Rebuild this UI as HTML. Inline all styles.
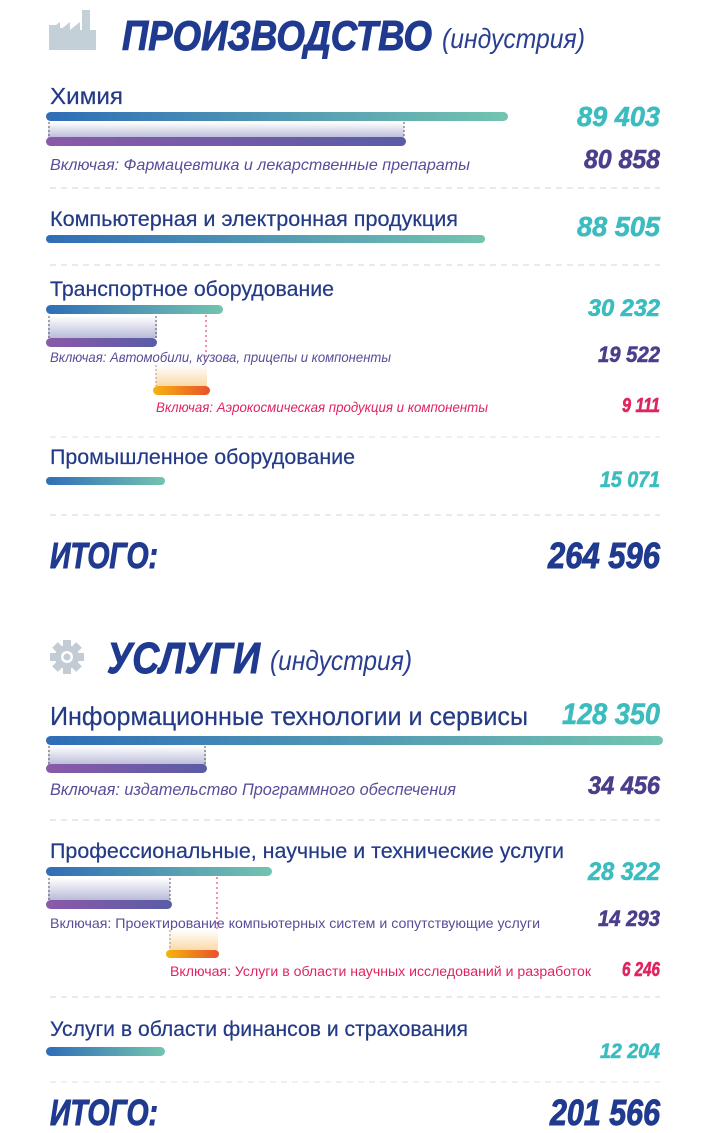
<!DOCTYPE html>
<html><head><meta charset="utf-8"><style>
html,body{margin:0;padding:0;background:#fff;width:712px;height:1133px;overflow:hidden}
svg{display:block}
text{font-family:"Liberation Sans","Noto Sans CJK SC",sans-serif}
.h{font-weight:bold;font-style:italic;fill:#1f3a8f;stroke:#1f3a8f;stroke-width:1}
.sub{font-style:italic;fill:#2a3f8f}
.l{fill:#233a86;stroke:#233a86;stroke-width:0.2}
.tq{font-weight:bold;font-style:italic;fill:#3cbcbf;stroke:#3cbcbf;stroke-width:0.6}
.pu{font-weight:bold;font-style:italic;fill:#4b3f8c;stroke:#4b3f8c;stroke-width:0.6}
.pk{font-weight:bold;font-style:italic;fill:#e0245e;stroke:#e0245e;stroke-width:0.6}
.ip{font-style:italic;fill:#5b4c99}
.ir{font-style:italic;fill:#e0245e}
</style></head><body>
<svg width="712" height="1133" viewBox="0 0 712 1133" xmlns="http://www.w3.org/2000/svg">
<defs>
<linearGradient id="bl" x1="0" x2="1"><stop offset="0" stop-color="#2f6db7"/><stop offset="1" stop-color="#73c4b0"/></linearGradient>
<linearGradient id="pp" x1="0" x2="1"><stop offset="0" stop-color="#8a5aa8"/><stop offset="1" stop-color="#5a5ca6"/></linearGradient>
<linearGradient id="or" x1="0" x2="1"><stop offset="0" stop-color="#f7b30f"/><stop offset="1" stop-color="#e8522a"/></linearGradient>
<linearGradient id="sh" x1="0" y1="0" x2="0" y2="1"><stop offset="0" stop-color="#fff"/><stop offset="1" stop-color="#b9bbd8"/></linearGradient>
<linearGradient id="so" x1="0" y1="0" x2="0" y2="1"><stop offset="0" stop-color="#fff"/><stop offset="1" stop-color="#fbd9a8"/></linearGradient>
</defs>

<g fill="#c3d0d8">
<rect x="49" y="25" width="8" height="25"/><rect x="58" y="28" width="8" height="22"/>
<polygon points="49,30 60,22 60,30 70,22 70,30 80,22 80,50 49,50"/>
<rect x="82" y="10" width="8" height="40"/><rect x="80" y="30" width="16" height="20"/>
</g>
<text class="h" x="122" y="50" font-size="42" textLength="310" lengthAdjust="spacingAndGlyphs">ПРОИЗВОДСТВО</text>
<text class="sub" x="442" y="48" font-size="28" textLength="143" lengthAdjust="spacingAndGlyphs">(индустрия)</text>

<text class="l" x="50" y="104" font-size="23" textLength="73" lengthAdjust="spacingAndGlyphs">Химия</text>
<rect x="46" y="112" width="462" height="9" rx="4.5" fill="url(#bl)"/>
<rect x="48" y="122" width="356" height="16" fill="url(#sh)"/>
<line x1="49" y1="122" x2="49" y2="137" stroke="#555" stroke-dasharray="2,2"/>
<line x1="404" y1="122" x2="404" y2="137" stroke="#555" stroke-dasharray="2,2"/>
<rect x="46" y="137" width="360" height="9" rx="4.5" fill="url(#pp)"/>
<text class="tq" x="660" y="126" font-size="28" text-anchor="end" textLength="83" lengthAdjust="spacingAndGlyphs">89 403</text>
<text class="ip" x="50" y="170" font-size="16" textLength="420" lengthAdjust="spacingAndGlyphs">Включая: Фармацевтика и лекарственные препараты</text>
<text class="pu" x="660" y="168" font-size="26" text-anchor="end" textLength="76" lengthAdjust="spacingAndGlyphs">80 858</text>
<line x1="50" y1="188" x2="660" y2="188" stroke="#d4d4d4" stroke-dasharray="6,5"/>

<text class="l" x="50" y="226" font-size="21" textLength="408" lengthAdjust="spacingAndGlyphs">Компьютерная и электронная продукция</text>
<rect x="46" y="235" width="439" height="8" rx="4" fill="url(#bl)"/>
<text class="tq" x="660" y="236" font-size="28" text-anchor="end" textLength="83" lengthAdjust="spacingAndGlyphs">88 505</text>
<line x1="50" y1="265" x2="660" y2="265" stroke="#d4d4d4" stroke-dasharray="6,5"/>

<text class="l" x="50" y="296" font-size="21" textLength="284" lengthAdjust="spacingAndGlyphs">Транспортное оборудование</text>
<rect x="46" y="305" width="177" height="9" rx="4.5" fill="url(#bl)"/>
<text class="tq" x="660" y="316" font-size="24" text-anchor="end" textLength="72" lengthAdjust="spacingAndGlyphs">30 232</text>
<rect x="48" y="316" width="109" height="22" fill="url(#sh)"/>
<line x1="49" y1="316" x2="49" y2="338" stroke="#555" stroke-dasharray="2,2"/>
<line x1="156" y1="316" x2="156" y2="338" stroke="#555" stroke-dasharray="2,2"/>
<line x1="206" y1="315" x2="206" y2="386" stroke="#e0245e" stroke-dasharray="2,3"/>
<rect x="46" y="338" width="111" height="9" rx="4.5" fill="url(#pp)"/>
<text class="ip" x="50" y="362" font-size="14" textLength="341" lengthAdjust="spacingAndGlyphs">Включая: Автомобили, кузова, прицепы и компоненты</text>
<text class="pu" x="660" y="362" font-size="22" text-anchor="end" textLength="62" lengthAdjust="spacingAndGlyphs">19 522</text>
<rect x="156" y="365" width="51" height="21" fill="url(#so)"/>
<line x1="156" y1="365" x2="156" y2="386" stroke="#999" stroke-dasharray="2,2"/>
<rect x="153" y="386" width="57" height="9" rx="4.5" fill="url(#or)"/>
<text class="ir" x="156" y="412" font-size="14" textLength="332" lengthAdjust="spacingAndGlyphs">Включая: Аэрокосмическая продукция и компоненты</text>
<text class="pk" x="660" y="412" font-size="20" text-anchor="end" textLength="38" lengthAdjust="spacingAndGlyphs">9 111</text>
<line x1="50" y1="437" x2="660" y2="437" stroke="#e2e2e2" stroke-dasharray="6,5"/>

<text class="l" x="50" y="464" font-size="21" textLength="305" lengthAdjust="spacingAndGlyphs">Промышленное оборудование</text>
<rect x="46" y="477" width="119" height="8" rx="4" fill="url(#bl)"/>
<text class="tq" x="660" y="487" font-size="22" text-anchor="end" textLength="60" lengthAdjust="spacingAndGlyphs">15 071</text>
<line x1="50" y1="515" x2="660" y2="515" stroke="#d4d4d4" stroke-dasharray="6,5"/>

<text class="h" x="50" y="568" font-size="36" textLength="108" lengthAdjust="spacingAndGlyphs">ИТОГО:</text>
<text class="h" x="660" y="568" font-size="36" text-anchor="end" textLength="112" lengthAdjust="spacingAndGlyphs">264 596</text>

<g transform="translate(67,657)" fill="#c3ccd4">
<circle r="12"/>
<g><rect x="-4" y="-17" width="8" height="34"/><rect x="-4" y="-17" width="8" height="34" transform="rotate(45)"/><rect x="-4" y="-17" width="8" height="34" transform="rotate(90)"/><rect x="-4" y="-17" width="8" height="34" transform="rotate(135)"/></g>
<circle r="6" fill="#fff"/><circle r="3.5"/>
</g>
<text class="h" x="107" y="673" font-size="44" textLength="153" lengthAdjust="spacingAndGlyphs">УСЛУГИ</text>
<text class="sub" x="270" y="670" font-size="28" textLength="142" lengthAdjust="spacingAndGlyphs">(индустрия)</text>

<text class="l" x="50" y="725" font-size="26" textLength="478" lengthAdjust="spacingAndGlyphs">Информационные технологии и сервисы</text>
<text class="tq" x="660" y="724" font-size="30" text-anchor="end" textLength="98" lengthAdjust="spacingAndGlyphs">128 350</text>
<rect x="46" y="736" width="617" height="9" rx="4.5" fill="url(#bl)"/>
<rect x="48" y="746" width="158" height="19" fill="url(#sh)"/>
<line x1="49" y1="746" x2="49" y2="764" stroke="#555" stroke-dasharray="2,2"/>
<line x1="205" y1="746" x2="205" y2="764" stroke="#555" stroke-dasharray="2,2"/>
<rect x="46" y="764" width="161" height="9" rx="4.5" fill="url(#pp)"/>
<text class="ip" x="50" y="795" font-size="17" textLength="406" lengthAdjust="spacingAndGlyphs">Включая: издательство Программного обеспечения</text>
<text class="pu" x="660" y="794" font-size="25" text-anchor="end" textLength="72" lengthAdjust="spacingAndGlyphs">34 456</text>
<line x1="50" y1="820" x2="660" y2="820" stroke="#d4d4d4" stroke-dasharray="6,5"/>

<text class="l" x="50" y="858" font-size="21" textLength="514" lengthAdjust="spacingAndGlyphs">Профессиональные, научные и технические услуги</text>
<rect x="46" y="867" width="226" height="9" rx="4.5" fill="url(#bl)"/>
<text class="tq" x="660" y="880" font-size="25" text-anchor="end" textLength="72" lengthAdjust="spacingAndGlyphs">28 322</text>
<rect x="48" y="878" width="122" height="22" fill="url(#sh)"/>
<line x1="49" y1="878" x2="49" y2="900" stroke="#555" stroke-dasharray="2,2"/>
<line x1="170" y1="878" x2="170" y2="900" stroke="#555" stroke-dasharray="2,2"/>
<line x1="217" y1="877" x2="217" y2="950" stroke="#e0245e" stroke-dasharray="2,3"/>
<rect x="46" y="900" width="126" height="9" rx="4.5" fill="url(#pp)"/>
<text fill="#5b4c99" x="50" y="928" font-size="14" textLength="490" lengthAdjust="spacingAndGlyphs">Включая: Проектирование компьютерных систем и сопутствующие услуги</text>
<text class="pu" x="660" y="926" font-size="22" text-anchor="end" textLength="62" lengthAdjust="spacingAndGlyphs">14 293</text>
<rect x="169" y="930" width="49" height="20" fill="url(#so)"/>
<line x1="170" y1="930" x2="170" y2="950" stroke="#999" stroke-dasharray="2,2"/>
<rect x="166" y="950" width="53" height="8" rx="4" fill="url(#or)"/>
<text fill="#e0245e" x="170" y="976" font-size="13.5" textLength="421" lengthAdjust="spacingAndGlyphs">Включая: Услуги в области научных исследований и разработок</text>
<text class="pk" x="660" y="976" font-size="20" text-anchor="end" textLength="38" lengthAdjust="spacingAndGlyphs">6 246</text>
<line x1="50" y1="997" x2="660" y2="997" stroke="#d4d4d4" stroke-dasharray="6,5"/>

<text class="l" x="50" y="1036" font-size="21" textLength="418" lengthAdjust="spacingAndGlyphs">Услуги в области финансов и страхования</text>
<rect x="46" y="1047" width="119" height="9" rx="4.5" fill="url(#bl)"/>
<text class="tq" x="660" y="1058" font-size="21" text-anchor="end" textLength="60" lengthAdjust="spacingAndGlyphs">12 204</text>
<line x1="50" y1="1082" x2="660" y2="1082" stroke="#e2e2e2" stroke-dasharray="6,5"/>

<text class="h" x="50" y="1125" font-size="36" textLength="108" lengthAdjust="spacingAndGlyphs">ИТОГО:</text>
<text class="h" x="660" y="1125" font-size="36" text-anchor="end" textLength="110" lengthAdjust="spacingAndGlyphs">201 566</text>
</svg>
</body></html>
